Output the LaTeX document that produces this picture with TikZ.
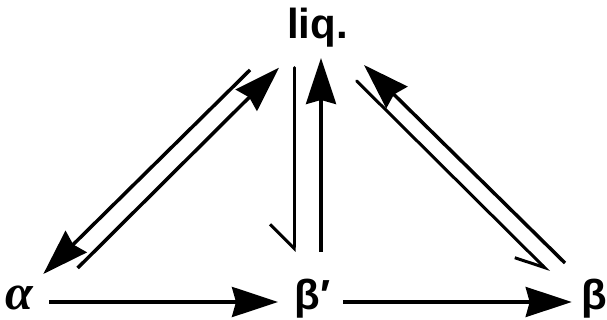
\documentclass[tikz,border=0pt]{standalone}
\usepackage{fontspec}
\setmainfont{Liberation Sans}
\newfontfamily\alphafont{Liberation Serif}
\usetikzlibrary{arrows.meta}
\begin{document}
\begin{tikzpicture}[x=1pt, y=1pt,
    phase/.style={inner sep=0pt, font=\fontsize{42}{50}\selectfont\bfseries},
    big/.style={line width=3.5pt, -{Stealth[length=46pt, width=30pt, inset=4pt]}},
    half/.style={line width=3pt, line cap=round}]
    \useasboundingbox (0,0) rectangle (607,320);

    % Phases
    \node[phase, anchor=base] (liq) at (317.5,281) {liq.};
    \node[phase, anchor=base, font=\fontsize{50}{58}\selectfont\alphafont\bfseries\itshape] (alpha) at (19,10) {α};
    \node[phase, anchor=base] (bp) at (312.5,10) {β′};
    \node[phase, anchor=base] (beta) at (594,10) {β};

    % Bottom row
    \draw[big] ([shift={(30,8)}]alpha.base) -- ([shift={(-34.5,8)}]bp.base);
    \draw[big] ([shift={(30.5,8)}]bp.base) -- ([shift={(-22.3,8)}]beta.base);

    % Left pair
    \draw[big] ([shift={(-67.5,-31)}]liq.base) -- ([shift={(24.3,36)}]alpha.base);
    \draw[big] ([shift={(58.7,42)}]alpha.base) -- ([shift={(-38.5,-28.7)}]liq.base);

    % Middle pair
    \draw[half, -{Straight Barb[right, length=24pt, width=48pt]}] ([shift={(-23.5,-28.7)}]liq.base) -- ([shift={(-18.5,58)}]bp.base);
    \draw[big] ([shift={(8.5,58)}]bp.base) -- ([shift={(3.5,-19)}]liq.base);

    % Right pair
    \draw[big] ([shift={(-29,47)}]beta.base) -- ([shift={(46.5,-26)}]liq.base);
    \draw[half, -{Straight Barb[right, length=28pt, width=28pt]}] ([shift={(39.2,-42)}]liq.base) -- ([shift={(-45,38)}]beta.base);
\end{tikzpicture}
\end{document}
